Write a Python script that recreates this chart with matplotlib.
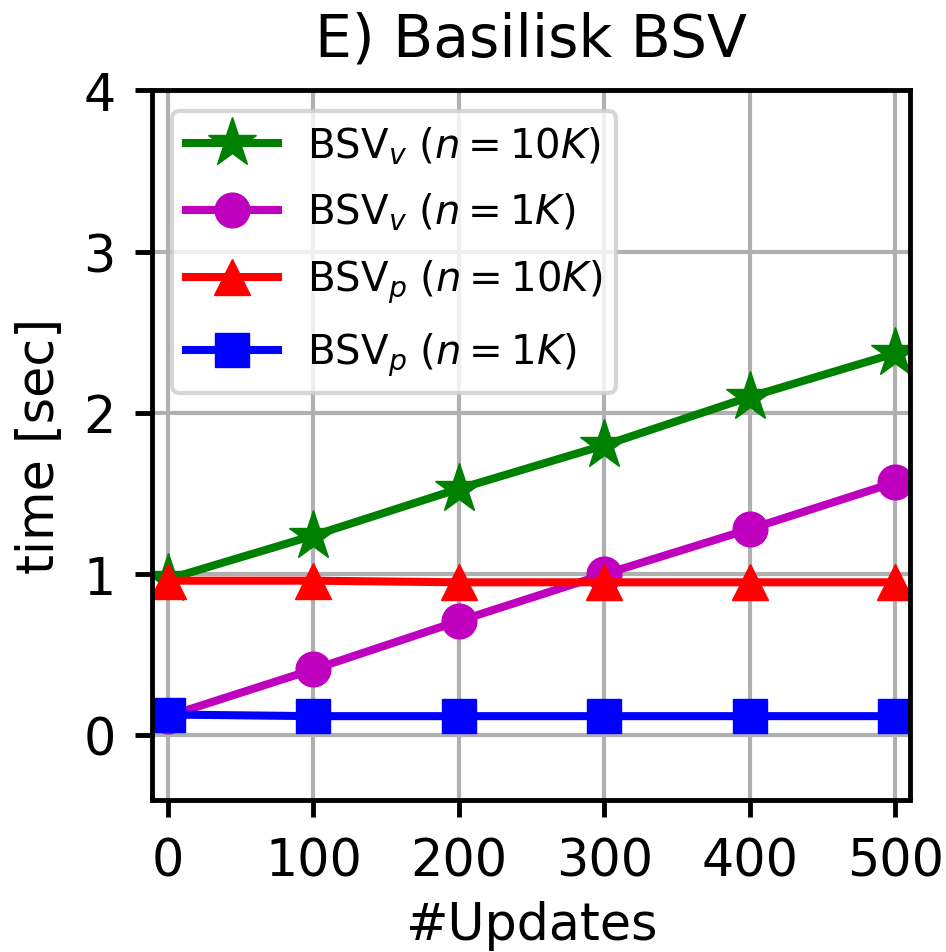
import matplotlib
matplotlib.use("Agg")
import matplotlib.pyplot as plt

updates = [0, 100, 200, 300, 400, 500]
bsv_v_10k = [0.97, 1.24, 1.53, 1.80, 2.10, 2.37]
bsv_v_1k = [0.12, 0.41, 0.71, 1.00, 1.28, 1.57]
bsv_p_10k = [0.96, 0.96, 0.95, 0.95, 0.95, 0.95]
bsv_p_1k = [0.13, 0.12, 0.12, 0.12, 0.12, 0.12]

labels = [r'BSV$_v$ $(n=10K)$', r'BSV$_v$ $(n=1K)$',
          r'BSV$_p$ $(n=10K)$', r'BSV$_p$ $(n=1K)$']

fig = plt.figure(figsize=(9.46, 9.53), dpi=100)
ax = fig.add_axes([0.1607, 0.1595, 0.801, 0.7445])

lw = 5.8
ax.plot(updates, bsv_v_10k, color='green', marker='*', markersize=37, lw=lw, label=labels[0])
ax.plot(updates, bsv_v_1k, color='m', marker='o', markersize=25, lw=lw, label=labels[1])
ax.plot(updates, bsv_p_10k, color='red', marker='^', markersize=26, lw=lw, label=labels[2])
ax.plot(updates, bsv_p_1k, color='blue', marker='s', markersize=25, lw=lw, label=labels[3])

ax.set_xlim(-11, 510)
ax.set_ylim(-0.4, 4)
ax.set_xticks([0, 100, 200, 300, 400, 500])
ax.set_yticks([0, 1, 2, 3, 4])
ax.grid(True, color='#b0b0b0', lw=3)
ax.set_axisbelow(True)
for s in ax.spines.values():
    s.set_linewidth(3.5)
ax.tick_params(labelsize=36.5, length=12, width=3.5, pad=14)

ax.set_xlabel('#Updates', fontsize=36.5, labelpad=10)
ax.set_ylabel('time [sec]', fontsize=36.5, labelpad=14)
ax.set_title('E) Basilisk BSV', fontsize=42, pad=25)

leg = ax.legend(loc='upper left', fontsize=29, handlelength=2.28, handletextpad=0.72,
                labelspacing=0.62, borderpad=0.35, borderaxespad=0.5)
leg.get_frame().set_linewidth(3)

fig.savefig('out.png', dpi=100)
